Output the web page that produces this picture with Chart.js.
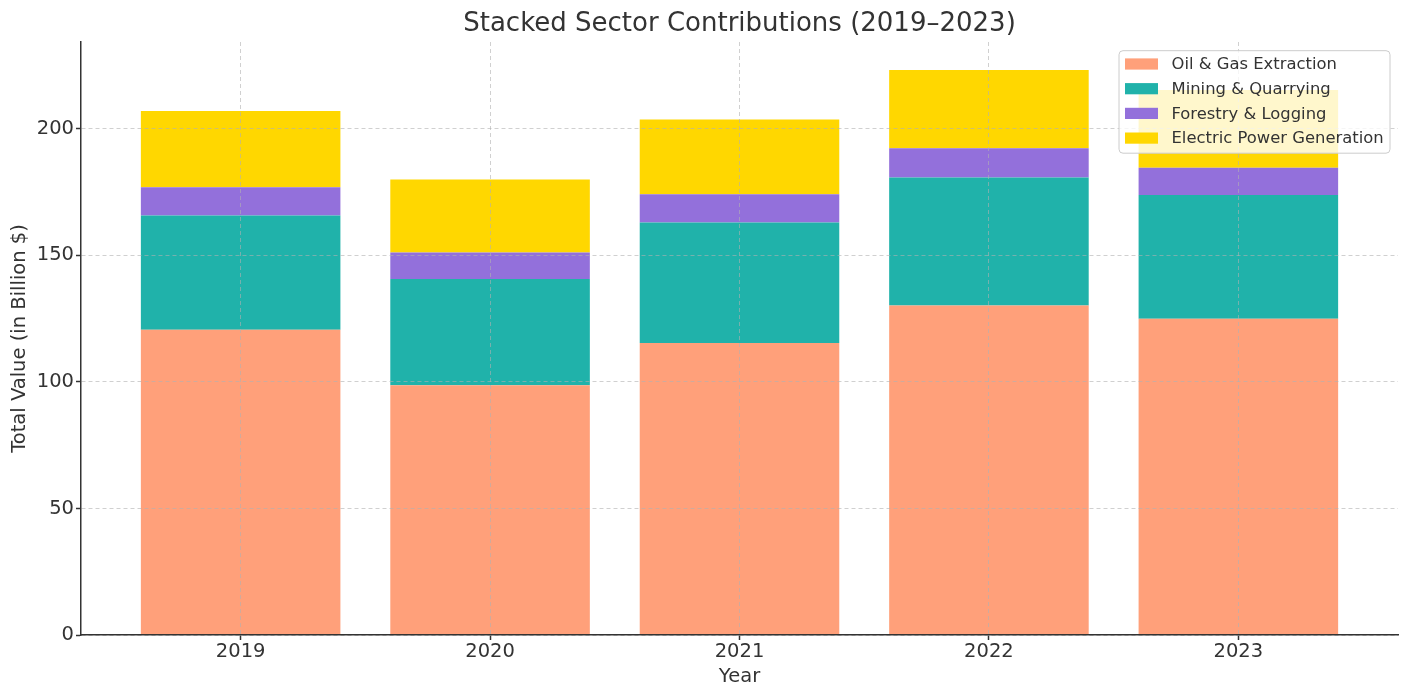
<!DOCTYPE html>
<html>
<head>
<meta charset="utf-8">
<script src="https://cdn.jsdelivr.net/npm/chart.js@4"></script>
<style>
  html, body { margin: 0; padding: 0; background: #fff; }
  #wrap { width: 1410px; height: 699px; }
</style>
</head>
<body>
<div id="wrap"><canvas id="chart"></canvas></div>
<script>
const YEARS = [2019, 2020, 2021, 2022, 2023];
const OIL_GAS = [120.6, 98.7, 115.4, 130.2, 125.0];
const MINING = [45.1, 42.0, 47.6, 50.6, 48.8];
const FORESTRY = [11.2, 10.4, 11.1, 11.5, 10.8];
const ELECTRIC = [30.1, 28.9, 29.6, 30.9, 30.7];
const Y_TICKS = [0, 50, 100, 150, 200];

const SERIES = [
	{ label: 'Oil & Gas Extraction', values: OIL_GAS, color: '#FFA07A' },
	{ label: 'Mining & Quarrying', values: MINING, color: '#20B2AA' },
	{ label: 'Forestry & Logging', values: FORESTRY, color: '#9370DB' },
	{ label: 'Electric Power Generation', values: ELECTRIC, color: '#FFD700' },
];

const FONT = 'DejaVu Sans';
const INK = '#333333';
const GRID = 'rgba(176,176,176,0.6)';

// legend drawn inside the plot, on top of the bars (like matplotlib)
const innerLegend = {
	id: 'innerLegend',
	afterDraw(chart) {
		const ctx = chart.ctx;
		const area = chart.chartArea;
		const w = 271, h = 102.5;
		const x = area.right - 8 - w;
		const y = area.top + 8.7;
		ctx.save();
		ctx.beginPath();
		ctx.roundRect(x, y, w, h, 4);
		ctx.fillStyle = 'rgba(255,255,255,0.8)';
		ctx.fill();
		ctx.strokeStyle = '#cccccc';
		ctx.lineWidth = 1;
		ctx.stroke();
		ctx.font = '16.4px "' + FONT + '"';
		ctx.textBaseline = 'middle';
		chart.data.datasets.forEach((ds, i) => {
			const cy = y + 13.3 + i * 24.7;
			ctx.fillStyle = ds.backgroundColor;
			ctx.fillRect(x + 6, cy - 5.6, 33, 11.2);
			ctx.fillStyle = INK;
			ctx.fillText(ds.label, x + 52.5, cy + 1);
		});
		ctx.restore();
	},
};

function buildChart() {
	const datasets = SERIES.map((s) => ({
		label: s.label,
		data: s.values.map((v, i) => ({ x: YEARS[i], y: v })),
		backgroundColor: s.color,
		borderWidth: 0,
		barPercentage: 0.8,
		categoryPercentage: 1.0,
		stack: 'total',
	}));

	const config = {
		type: 'bar',
		data: { datasets },
		plugins: [innerLegend],
		options: {
			responsive: true,
			maintainAspectRatio: false,
			animation: false,
			devicePixelRatio: 1,
			layout: { padding: { left: 0, right: 12, top: 0, bottom: 0 } },
			plugins: {
				legend: { display: false },
				tooltip: { enabled: false },
				title: {
					display: true,
					text: 'Stacked Sector Contributions (2019–2023)',
					color: INK,
					fullSize: false,
					font: { family: FONT, size: 26, weight: 'normal' },
					padding: { top: 8.5, bottom: 2.3 },
				},
			},
			scales: {
				x: {
					type: 'linear',
					stacked: true,
					offset: false,
					min: YEARS[0] - 0.64,
					max: YEARS[YEARS.length - 1] + 0.64,
					z: 1,
					afterBuildTicks: (scale) => {
						scale.ticks = YEARS.map((v) => ({ value: v }));
					},
					afterFit: (scale) => { scale.height = 64; },
					ticks: {
						color: INK,
						font: { family: FONT, size: 19.5 },
						padding: 0,
						maxRotation: 0,
						callback: (v) => String(v),
					},
					grid: {
						z: 1,
						offset: false,
						color: GRID,
						lineWidth: 1,
						tickColor: INK,
						tickWidth: 1.5,
						tickLength: 5,
					},
					border: { display: true, z: 2, color: INK, width: 1.5, dash: [4, 3] },
					title: {
						display: true,
						text: 'Year',
						color: INK,
						font: { family: FONT, size: 19.5 },
						padding: { top: 0, bottom: 10 },
					},
				},
				y: {
					stacked: true,
					min: 0,
					max: 234.3,
					z: 1,
					afterBuildTicks: (scale) => {
						scale.ticks = Y_TICKS.map((v) => ({ value: v }));
					},
					afterFit: (scale) => { scale.width = 81; },
					ticks: {
						color: INK,
						font: { family: FONT, size: 19.5 },
						padding: 2,
						callback: (v) => String(v),
					},
					grid: {
						z: 1,
						color: GRID,
						lineWidth: 1,
						tickColor: INK,
						tickWidth: 1.5,
						tickLength: 5,
					},
					border: { display: true, z: 2, color: INK, width: 1.5, dash: [4, 3] },
					title: {
						display: true,
						text: 'Total Value (in Billion $)',
						color: INK,
						font: { family: FONT, size: 19.5 },
						padding: { top: 8, bottom: 0 },
					},
				},
			},
		},
	};

	return new Chart(document.getElementById('chart'), config);
}

buildChart();
</script>
</body>
</html>
